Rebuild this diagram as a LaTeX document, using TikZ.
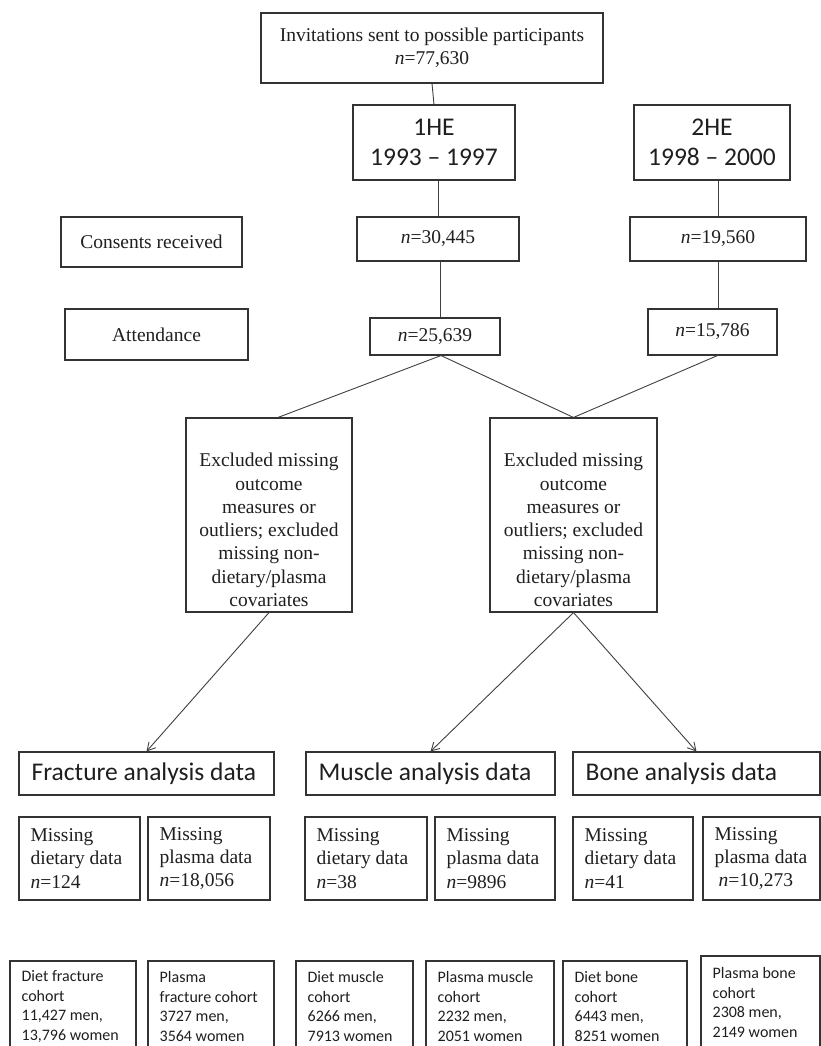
\documentclass[tikz,border=0pt]{standalone}
\usepackage{fontspec}
\setmainfont{Liberation Serif}
\newfontfamily\carlito{Carlito}
\usetikzlibrary{arrows.meta}
\tikzset{
 boxst/.style={draw=black!80, line width=1.1pt, inner sep=0pt},
 sertxt/.style={font=\fontsize{19.5}{23.3}\selectfont, align=center, inner sep=0pt, text=black!88},
 sertxtl/.style={sertxt, align=left, xshift=12pt},
 exttxt/.style={sertxt, yshift=-15pt},
 hetxt/.style={font=\carlito\fontsize{25.5}{30}\selectfont, align=center, inner sep=0pt, text=black!88},
 antxt/.style={font=\carlito\fontsize{25.5}{30}\selectfont, inner sep=0pt, text=black!88, xshift=13pt},
 cotxt/.style={font=\carlito\fontsize{16}{19.5}\selectfont, align=left, inner sep=0pt, text=black!88, xshift=12pt},
 conn/.style={draw=black!75, line width=0.9pt},
 arr/.style={conn, -{Straight Barb[length=8pt,width=9pt]}},
}
\newcommand\cbox[7]{%
 \node[boxst, minimum width={(#4)-(#2)}, minimum height={(#5)-(#3)}] (#1) at ({((#2)+(#4))/2},{((#3)+(#5))/2}) {};
 \node[#6] (#1t) at (#1.center) {#7};}
\newcommand\lbox[7]{%
 \node[boxst, minimum width={(#4)-(#2)}, minimum height={(#5)-(#3)}] (#1) at ({((#2)+(#4))/2},{((#3)+(#5))/2}) {};
 \node[#6, anchor=west] (#1t) at (#1.west) {#7};}
\begin{document}
\begin{tikzpicture}[x=1pt,y=-1pt]
\useasboundingbox (0,0) rectangle (821,1046);
\fill[white] (0,0) rectangle (821,1046);
\clip (0,0) rectangle (821,1046);
% top rows
\cbox{top}{261}{13}{603}{83}{sertxt}{Invitations sent to possible participants\\\textit{n}=77,630}
\cbox{he1}{353}{105}{515}{180}{hetxt}{1HE\\1993 \textendash{} 1997}
\cbox{he2}{634}{105}{790}{180}{hetxt}{2HE\\1998 \textendash{} 2000}
\cbox{cons}{61}{217}{242}{267}{sertxt}{Consents received}
\cbox{n30}{357}{217}{519}{261}{sertxt}{\textit{n}=30,445}
\cbox{n19}{630}{217}{806}{261}{sertxt}{\textit{n}=19,560}
\cbox{att}{65}{309}{248}{360}{sertxt}{Attendance}
\cbox{n25}{370}{318}{500}{355}{sertxt}{\textit{n}=25,639}
\cbox{n15}{648}{309}{777}{355}{sertxt}{\textit{n}=15,786}
% exclusion boxes
\cbox{ex1}{186}{418}{352}{612}{exttxt}{Excluded missing\\outcome\\measures or\\outliers; excluded\\missing non-\\dietary/plasma\\covariates}
\cbox{ex2}{490}{418}{657}{612}{exttxt}{Excluded missing\\outcome\\measures or\\outliers; excluded\\missing non-\\dietary/plasma\\covariates}
% analysis boxes
\lbox{frac}{19}{752}{274}{795}{antxt}{Fracture analysis data}
\lbox{musc}{306}{752}{555}{795}{antxt}{Muscle analysis data}
\lbox{bone}{573}{752}{820}{795}{antxt}{Bone analysis data}
% missing boxes
\lbox{md1}{19}{817}{140}{900}{sertxtl}{Missing\\dietary data\\\textit{n}=124}
\lbox{mp1}{148}{817}{270}{900}{sertxtl}{Missing\\plasma data\\\textit{n}=18,056}
\lbox{md2}{305}{817}{427}{900}{sertxtl}{Missing\\dietary data\\\textit{n}=38}
\lbox{mp2}{435}{817}{555}{900}{sertxtl}{Missing\\plasma data\\\textit{n}=9896}
\lbox{md3}{573}{817}{693}{900}{sertxtl}{Missing\\dietary data\\\textit{n}=41}
\lbox{mp3}{703}{817}{820}{900}{sertxtl}{Missing\\plasma data\\\hspace*{4pt}\textit{n}=10,273}
% cohort boxes
\lbox{cd1}{10}{961}{136}{1052}{cotxt}{Diet fracture\\cohort\\11,427 men,\\13,796 women}
\lbox{cp1}{148}{961}{274}{1052}{cotxt}{Plasma\\fracture cohort\\3727 men,\\3564 women}
\lbox{cd2}{296}{961}{413}{1052}{cotxt}{Diet muscle\\cohort\\6266 men,\\7913 women}
\lbox{cp2}{426}{961}{554}{1052}{cotxt}{Plasma muscle\\cohort\\2232 men,\\2051 women}
\lbox{cd3}{563}{961}{687}{1052}{cotxt}{Diet bone\\cohort\\6443 men,\\8251 women}
\lbox{cp3}{701}{956}{820}{1049}{cotxt}{Plasma bone\\cohort\\2308 men,\\2149 women}
% connectors
\draw[conn] (top.south) -- (he1.north);
\draw[conn] (he1.south -| n30.north) -- (n30.north);
\draw[conn] ([xshift=2pt]n30.south) -- ([xshift=2pt]n30.south |- n25.north);
\draw[conn] (he2.south -| n19.north) -- (n19.north);
\draw[conn] (n19.south) -- (n19.south |- n15.north);
\draw[conn] ([xshift=6pt]n25.south) -- ([xshift=9pt]ex1.north);
\draw[conn] ([xshift=6pt]n25.south) -- (ex2.north);
\draw[conn] ([xshift=5pt]n15.south) -- (ex2.north);
\draw[arr] (ex1.south) -- (frac.north);
\draw[arr] (ex2.south) -- (musc.north);
\draw[arr] (ex2.south) -- (bone.north);
\end{tikzpicture}
\end{document}
